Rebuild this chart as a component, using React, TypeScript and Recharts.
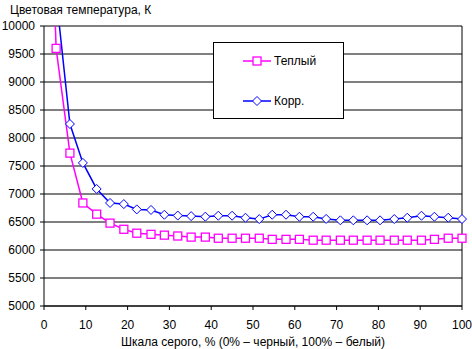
import React from 'react';
import { LineChart, Line, XAxis, YAxis, CartesianGrid, ReferenceLine, Legend } from 'recharts';

const grayLevels = [0, 2.9, 6.2, 9.3, 12.6, 15.8, 19.1, 22.2, 25.6, 28.8, 32.0, 35.2, 38.6, 41.7, 45.0, 48.2,
    51.5, 54.6, 57.9, 61.1, 64.4, 67.5, 70.9, 74.0, 77.3, 80.4, 83.8, 86.9, 90.3, 93.4, 96.7, 100];
const warm = [16000, 9600, 7730, 6840, 6640, 6480, 6370, 6300, 6280, 6265, 6250, 6230, 6230, 6210, 6210, 6210,
    6210, 6190, 6190, 6190, 6175, 6175, 6175, 6175, 6175, 6175, 6175, 6175, 6175, 6190, 6210, 6210];
const corr = [20000, 10550, 8250, 7555, 7090, 6840, 6820, 6725, 6715, 6630, 6615, 6605, 6595, 6612, 6612, 6576,
    6552, 6630, 6630, 6594, 6594, 6555, 6530, 6530, 6530, 6530, 6553, 6576, 6612, 6594, 6576, 6553];
const xTicks = [0, 10, 20, 30, 40, 50, 60, 70, 80, 90, 100];
const yTicks = [5000, 5500, 6000, 6500, 7000, 7500, 8000, 8500, 9000, 9500, 10000];

const data = grayLevels.map((x, i) => ({ x, warm: warm[i], corr: corr[i] }));

const MAGENTA = '#FF00FF';
const BLUE = '#0000FF';
const FONT = '"Liberation Sans", Arial, sans-serif';

const SquareDot = (props: any) => {
    const { cx, cy } = props;
    if (cx == null || cy == null) return null;
    return <rect key={props.index} x={cx - 4} y={cy - 4} width={8} height={8} fill="#fff" stroke={MAGENTA} strokeWidth={1.3} />;
};

const DiamondDot = (props: any) => {
    const { cx, cy } = props;
    if (cx == null || cy == null) return null;
    const r = 4.5;
    return (
        <polygon key={props.index} points={`${cx},${cy - r} ${cx + r},${cy} ${cx},${cy + r} ${cx - r},${cy}`}
            fill="#fff" stroke={BLUE} strokeWidth={1} />
    );
};

function LegendBox() {
    return (
        <div style={{ width: 129, height: 75, border: '1px solid #000', background: '#fff', fontFamily: FONT, fontSize: 12 }}>
            <div style={{ position: 'absolute', left: 30, top: 12, display: 'flex', alignItems: 'center' }}>
                <svg width={28} height={10}>
                    <line x1={0} y1={5} x2={28} y2={5} stroke={MAGENTA} strokeWidth={1.5} />
                    <rect x={10} y={1} width={8} height={8} fill="#fff" stroke={MAGENTA} strokeWidth={1.3} />
                </svg>
                <span style={{ marginLeft: 3 }}>Теплый</span>
            </div>
            <div style={{ position: 'absolute', left: 30, top: 52, display: 'flex', alignItems: 'center' }}>
                <svg width={28} height={10}>
                    <line x1={0} y1={5} x2={28} y2={5} stroke={BLUE} strokeWidth={1.5} />
                    <polygon points="14,0.5 18.5,5 14,9.5 9.5,5" fill="#fff" stroke={BLUE} strokeWidth={1} />
                </svg>
                <span style={{ marginLeft: 3 }}>Корр.</span>
            </div>
        </div>
    );
}

export default function App() {
    return (
        <div style={{ position: 'absolute', left: 0, top: 0, width: 472, height: 349, background: '#fff' }}>
            <div style={{ position: 'absolute', left: 10, top: 3, fontFamily: FONT, fontSize: 12, color: '#000' }}>
                Цветовая температура, К
            </div>
            <LineChart width={472} height={349} data={data} margin={{ top: 26, right: 10, bottom: 0, left: 0 }}>
                <CartesianGrid vertical={false} stroke="#000" />
                <XAxis dataKey="x" type="number" domain={[0, 100]} ticks={xTicks} height={43}
                    axisLine={{ stroke: '#000' }} tickLine={{ stroke: '#000' }} tickSize={4} tickMargin={10}
                    tick={{ fill: '#000', fontSize: 12, fontFamily: FONT }}
                    label={{ value: 'Шкала серого, % (0% – черный, 100% – белый)', position: 'insideBottom', offset: 3,
                        fill: '#000', fontSize: 12, fontFamily: FONT }} />
                <YAxis type="number" domain={[5000, 10000]} ticks={yTicks} allowDataOverflow width={44}
                    axisLine={{ stroke: '#000' }} tickLine={{ stroke: '#000' }} tickSize={4} tickMargin={5}
                    tick={{ fill: '#000', fontSize: 12, fontFamily: FONT }} />
                <ReferenceLine x={100} stroke="#000" />
                <Line type="linear" dataKey="corr" stroke={BLUE} strokeWidth={1.5} dot={<DiamondDot />} isAnimationActive={false} />
                <Line type="linear" dataKey="warm" stroke={MAGENTA} strokeWidth={1.5} dot={<SquareDot />} isAnimationActive={false} />
                <Legend layout="vertical" align="center" verticalAlign="middle"
                    wrapperStyle={{ left: 213, top: 42, width: 131, height: 77 }} content={() => <LegendBox />} />
            </LineChart>
        </div>
    );
}
